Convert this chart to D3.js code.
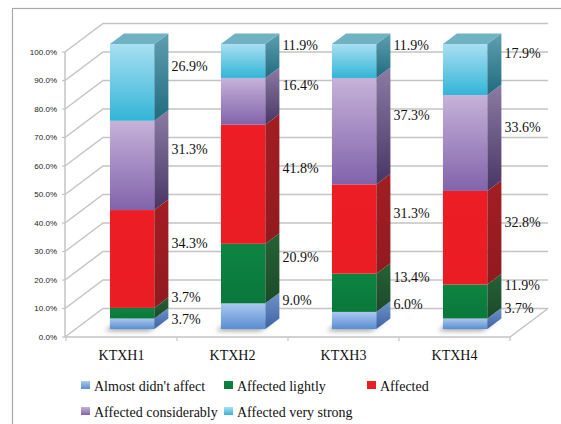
<!DOCTYPE html>
<html lang="en">
<head>
<meta charset="UTF-8">
<title>Stacked 3D columns</title>
<script src="https://d3js.org/d3.v7.min.js"></script>
<style>
  body { margin: 0; background: #ffffff; }
  svg { display: block; }
</style>
</head>
<body>
<svg id="chart" width="561" height="424"></svg>
<script>
// chart data
const categories = ["KTXH1", "KTXH2", "KTXH3", "KTXH4"];
const seriesNames = ["Almost didn't affect", "Affected lightly", "Affected", "Affected considerably", "Affected very strong"];
const almostNone = [3.7, 9.0, 6.0, 3.7];
const lightly = [3.7, 20.9, 13.4, 11.9];
const affected = [34.3, 41.8, 31.3, 32.8];
const considerably = [31.3, 16.4, 37.3, 33.6];
const veryStrong = [26.9, 11.9, 11.9, 17.9];
const yTicks = [0, 0.1, 0.2, 0.3, 0.4, 0.5, 0.6, 0.7, 0.8, 0.9, 1.0];

const seriesValues = [almostNone, lightly, affected, considerably, veryStrong];
const rows = categories.map((c, i) => {
  const r = { cat: c };
  seriesNames.forEach((s, j) => r[s] = seriesValues[j][i]);
  return r;
});

const serifFont = "'Liberation Serif', 'Times New Roman', serif";
const sansFont = "'Liberation Sans', Arial, sans-serif";

// colours: [front top, front bottom, side top, side bottom]
const palette = [
  ["#abc8ef", "#5a8dd2", "#6f93c9", "#3d63a3"],
  ["#0d8442", "#0a783b", "#266236", "#1b4a29"],
  ["#ee1d25", "#ea1c24", "#a21e23", "#911a1e"],
  ["#c6b2d9", "#8163ab", "#8b7ba4", "#483565"],
  ["#a8dff2", "#33b5d7", "#5f9fb1", "#1f6b7e"]
];
const topColor = "#70b2c2";

const svg = d3.select("#chart");
const defs = svg.append("defs");

palette.forEach((p, i) => {
  const gf = defs.append("linearGradient").attr("id", "front" + i)
    .attr("x1", 0).attr("y1", 0).attr("x2", 0).attr("y2", 1);
  gf.append("stop").attr("offset", "0%").attr("stop-color", p[0]);
  gf.append("stop").attr("offset", "100%").attr("stop-color", p[1]);
  const gs = defs.append("linearGradient").attr("id", "side" + i)
    .attr("x1", 0).attr("y1", 0).attr("x2", 0).attr("y2", 1);
  gs.append("stop").attr("offset", "0%").attr("stop-color", p[2]);
  gs.append("stop").attr("offset", "100%").attr("stop-color", p[3]);
});

defs.append("filter").attr("id", "blur")
  .attr("x", "-50%").attr("y", "-50%").attr("width", "200%").attr("height", "200%")
  .append("feGaussianBlur").attr("stdDeviation", 2.5);

// outer frame
svg.append("rect")
  .attr("x", 12.5).attr("y", 8.5).attr("width", 600).attr("height", 500)
  .attr("fill", "none").attr("stroke", "#a9a9a9").attr("stroke-width", 1.2);

// geometry of the 3D box
const depthX = 38, depthY = -28.5;
const x = d3.scaleBand().domain(categories).range([66, 510]).paddingInner(0.6).paddingOuter(0.3);
const y = d3.scaleLinear().domain([0, 1]).range([337, 52]);
const barFront = 0.28, barDepth = 0.37;

const grid = svg.append("g");
const gridColor = "#c4c4c4";

// back wall + side wall gridlines
yTicks.forEach(t => {
  grid.append("polyline")
    .attr("points", [[x.range()[0] - 1, y(t)], [x.range()[0] - 1 + depthX, y(t) + depthY], [x.range()[1] + depthX, y(t) + depthY]].join(" "))
    .attr("fill", "none").attr("stroke", gridColor).attr("stroke-width", 1.5);
});

// floor front and right edges
grid.append("polyline")
  .attr("points", [[x.range()[0] - 1, y(0)], [x.range()[1], y(0)], [x.range()[1] + depthX, y(0) + depthY]].join(" "))
  .attr("fill", "none").attr("stroke", gridColor).attr("stroke-width", 1.5);

// vertical axis
grid.append("line")
  .attr("x1", x.range()[0] - 1).attr("x2", x.range()[0] - 1)
  .attr("y1", y(1)).attr("y2", y(0))
  .attr("stroke", gridColor).attr("stroke-width", 1.5);

const yAxis = svg.append("g");
yAxis.selectAll("line").data(yTicks).join("line")
  .attr("x1", x.range()[0] - 4).attr("x2", x.range()[0] - 1)
  .attr("y1", d => y(d)).attr("y2", d => y(d))
  .attr("stroke", gridColor).attr("stroke-width", 1.2);
yAxis.selectAll("text").data(yTicks).join("text")
  .attr("font-family", sansFont).attr("font-size", 8).attr("fill", "#222")
  .attr("x", 57).attr("y", d => y(d)).attr("dy", "0.35em")
  .attr("text-anchor", "end")
  .text(d => d3.format(".1%")(d));

// category ticks along floor
const step = x.step();
const bounds = d3.range(categories.length + 1).map(i => x.range()[0] + i * step);
svg.append("g").selectAll("line").data(bounds).join("line")
  .attr("x1", d => d).attr("x2", d => d)
  .attr("y1", y(0)).attr("y2", y(0) + 4)
  .attr("stroke", gridColor).attr("stroke-width", 1.2);

svg.append("g").selectAll("text").data(categories).join("text")
  .attr("font-family", serifFont).attr("font-size", 14).attr("fill", "#111")
  .attr("x", d => x(d) + x.bandwidth() / 2)
  .attr("y", 360)
  .attr("text-anchor", "middle")
  .text(d => d);

// stacked bars
const stacked = d3.stack().keys(seriesNames).offset(d3.stackOffsetExpand)(rows);
const offX = depthX * barFront, offY = depthY * barFront;
const bdx = depthX * barDepth, bdy = depthY * barDepth;
const yb = v => y(v) + offY;
const bw = x.bandwidth();

// floor shadows
svg.append("g").selectAll("path").data(categories).join("path")
  .attr("d", d => {
    const x0 = x(d) + offX - 5, y0 = yb(0) + 2;
    return `M${x0},${y0} L${x0 + bw},${y0} L${x0 + bw + bdx},${y0 + bdy} L${x0 + bdx},${y0 + bdy} Z`;
  })
  .attr("fill", "#444").attr("opacity", 0.5).attr("filter", "url(#blur)");

const bars = svg.append("g");
stacked.forEach((layer, si) => {
  const g = bars.append("g");
  layer.forEach((seg, ci) => {
    const x0 = x(categories[ci]) + offX;
    const x1 = x0 + bw;
    const yt = yb(seg[1]), ybt = yb(seg[0]);
    g.append("rect")
      .attr("x", x0).attr("y", yt).attr("width", bw).attr("height", ybt - yt)
      .attr("fill", `url(#front${si})`);
    g.append("path")
      .attr("d", `M${x1},${yt} L${x1 + bdx},${yt + bdy} L${x1 + bdx},${ybt + bdy} L${x1},${ybt} Z`)
      .attr("fill", `url(#side${si})`);
    if (si === stacked.length - 1) {
      g.append("path")
        .attr("d", `M${x0},${yt} L${x1},${yt} L${x1 + bdx},${yt + bdy} L${x0 + bdx},${yt + bdy} Z`)
        .attr("fill", topColor);
    }
  });
});

// data labels: beside the bar, nudged toward the back and kept apart
const labels = svg.append("g");
categories.forEach((c, ci) => {
  const items = stacked.map((layer, si) => ({
    v: seriesValues[si][ci],
    y: yb((layer[ci][0] + layer[ci][1]) / 2) - 16
  })).reverse();
  for (let k = 1; k < items.length; k++) {
    if (items[k].y - items[k - 1].y < 22) items[k].y = items[k - 1].y + 22;
  }
  items.forEach(it => {
    labels.append("text")
      .attr("font-family", serifFont).attr("font-size", 14).attr("fill", "#111")
      .attr("x", x(c) + offX + bw + bdx + 3)
      .attr("y", it.y).attr("dy", "0.35em")
      .text(d3.format(".1f")(it.v) + "%");
  });
});

// legend
const legend = svg.append("g");
seriesNames.forEach((s, i) => {
  const col = i % 3, row = Math.floor(i / 3);
  const lx = 81 + col * 143, ly = 386 + row * 26;
  legend.append("rect")
    .attr("x", lx).attr("y", ly - 5).attr("width", 9).attr("height", 8)
    .attr("fill", `url(#front${i})`);
  legend.append("text")
    .attr("font-family", serifFont).attr("font-size", 14).attr("fill", "#111")
    .attr("x", lx + 13).attr("y", ly).attr("dy", "0.35em")
    .text(s);
});
</script>
</body>
</html>
